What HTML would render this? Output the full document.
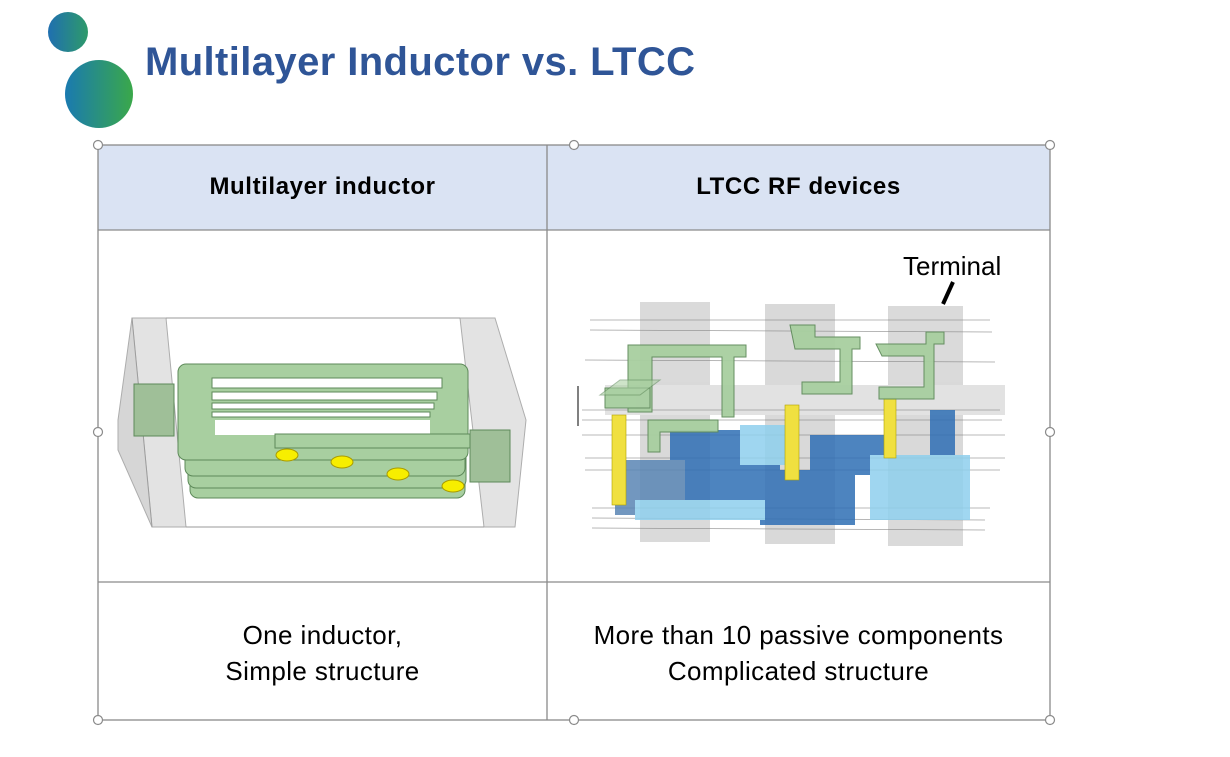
<!DOCTYPE html>
<html><head><meta charset="utf-8"><style>
body{margin:0;width:1230px;height:757px;background:#fff;position:relative;overflow:hidden;font-family:"Liberation Sans",sans-serif}
.t{position:absolute;text-align:center;font-family:"Liberation Sans",sans-serif;color:#000}
</style></head><body>
<svg width="1230" height="757" style="position:absolute;left:0;top:0">
<defs>
<linearGradient id="g1" x1="0" y1="0" x2="1" y2="0"><stop offset="0" stop-color="#1f6fb0"/><stop offset="1" stop-color="#2e9a6a"/></linearGradient>
<linearGradient id="g2" x1="0" y1="0" x2="1" y2="0"><stop offset="0" stop-color="#1a7ab0"/><stop offset="1" stop-color="#3aa84a"/></linearGradient>
</defs>
<circle cx="68" cy="32" r="20" fill="url(#g1)"/>
<circle cx="99" cy="94" r="34" fill="url(#g2)"/>
<text x="145" y="75" font-family="Liberation Sans" font-weight="bold" font-size="40" fill="#2f5597" textLength="550">Multilayer Inductor vs. LTCC</text>
<rect x="98" y="145" width="952" height="85" fill="#dae3f3"/>
<g stroke="#8a8a8a" stroke-width="1.3" fill="none">
<rect x="98" y="145" width="952" height="575"/>
<line x1="98" y1="230" x2="1050" y2="230"/>
<line x1="98" y1="582" x2="1050" y2="582"/>
<line x1="547" y1="145" x2="547" y2="720"/>
</g>
<g fill="#fff" stroke="#8a8a8a" stroke-width="1.2">
<circle cx="98" cy="145" r="4.5"/><circle cx="574" cy="145" r="4.5"/><circle cx="1050" cy="145" r="4.5"/>
<circle cx="98" cy="432" r="4.5"/><circle cx="1050" cy="432" r="4.5"/>
<circle cx="98" cy="720" r="4.5"/><circle cx="574" cy="720" r="4.5"/><circle cx="1050" cy="720" r="4.5"/>
</g>
<g stroke="#999" stroke-width="1">
<polygon points="132,318 166,318 186,527 152,527" fill="#ddd" opacity="0.8"/>
<polygon points="118,420 132,318 152,527 118,450" fill="#ccc" opacity="0.8"/>
<polygon points="460,318 495,318 526,420 515,527 484,527" fill="#ddd" opacity="0.8"/>
<line x1="166" y1="318" x2="460" y2="318"/><line x1="186" y1="527" x2="484" y2="527"/>
</g>
<g fill="#a8cfa0" stroke="#5e8a5a" stroke-width="1">
<rect x="190" y="440" width="275" height="58" rx="8"/>
<rect x="188" y="428" width="278" height="60" rx="8"/>
<rect x="185" y="418" width="280" height="58" rx="8"/>
<rect x="178" y="364" width="290" height="96" rx="8"/>
<rect x="134" y="384" width="40" height="52" fill="#9fbf98"/>
<rect x="470" y="430" width="40" height="52" fill="#9fbf98"/>
</g>
<g fill="#fff" stroke="#5e8a5a">
<rect x="212" y="378" width="230" height="10"/>
<rect x="212" y="392" width="225" height="8"/>
<rect x="212" y="403" width="222" height="6"/>
<rect x="212" y="412" width="218" height="5"/>
<rect x="215" y="420" width="215" height="15" stroke="none"/>
</g>
<rect x="275" y="434" width="195" height="14" fill="#a8cfa0" stroke="#5e8a5a"/>
<g fill="#f7ee00" stroke="#a89a00">
<ellipse cx="287" cy="455" rx="11" ry="6"/><ellipse cx="342" cy="462" rx="11" ry="6"/>
<ellipse cx="398" cy="474" rx="11" ry="6"/><ellipse cx="453" cy="486" rx="11" ry="6"/>
</g>
<g opacity="0.55">
<rect x="640" y="302" width="70" height="240" fill="#bbb"/>
<rect x="765" y="304" width="70" height="240" fill="#bbb"/>
<rect x="888" y="306" width="75" height="240" fill="#bbb"/>
<rect x="605" y="385" width="400" height="30" fill="#ccc"/>
</g>
<g stroke="#888" stroke-width="0.7" opacity="0.8">
<line x1="590" y1="320" x2="990" y2="320"/><line x1="590" y1="330" x2="992" y2="332"/>
<line x1="585" y1="360" x2="995" y2="362"/><line x1="582" y1="410" x2="1000" y2="410"/>
<line x1="582" y1="420" x2="1002" y2="420"/><line x1="582" y1="435" x2="1005" y2="435"/>
<line x1="585" y1="458" x2="1005" y2="458"/><line x1="585" y1="470" x2="1000" y2="470"/>
<line x1="592" y1="508" x2="990" y2="508"/><line x1="592" y1="518" x2="985" y2="520"/>
<line x1="592" y1="528" x2="985" y2="530"/>
</g>
<g opacity="0.85">
<rect x="670" y="430" width="110" height="80" fill="#2f6fb5"/>
<rect x="615" y="460" width="70" height="55" fill="#5a86b5"/>
<rect x="760" y="470" width="95" height="55" fill="#2f6fb5"/>
<rect x="810" y="435" width="80" height="40" fill="#2f6fb5"/>
<rect x="930" y="410" width="25" height="75" fill="#2f6fb5"/>
<rect x="870" y="455" width="100" height="65" fill="#8fd0ee"/>
<rect x="635" y="500" width="130" height="20" fill="#8fd0ee"/>
<rect x="740" y="425" width="45" height="40" fill="#8fd0ee"/>
</g>
<g fill="#f0e040" stroke="#b0a000" stroke-width="0.6">
<rect x="612" y="415" width="14" height="90"/>
<rect x="785" y="405" width="14" height="75"/>
<rect x="884" y="398" width="12" height="60"/>
</g>
<g fill="#a8cfa0" stroke="#5e8a5a" stroke-width="1" opacity="0.95">
<path d="M628,345 h118 v12 h-12 v60 h-12 v-60 h-70 v55 h-24z"/>
<rect x="605" y="388" width="45" height="20"/>
<path d="M648,420 h70 v12 h-58 v20 h-12z"/>
<path d="M790,325 h25 v12 h45 v12 h-8 v45 h-50 v-12 h38 v-33 h-45z"/>
<path d="M876,344 h50 v-12 h18 v12 h-10 v55 h-55 v-12 h45 v-31 h-42z"/>
<path d="M600,395 l20,-15 h40 l-20,15z" opacity="0.6"/>
</g>
<path d="M953,282 l-10,22" stroke="#000" stroke-width="4"/>
<line x1="578" y1="386" x2="578" y2="426" stroke="#000" stroke-width="1"/>
</svg>
<div class="t" style="left:98px;top:173px;width:449px;font-size:24px;font-weight:bold;letter-spacing:0.6px">Multilayer inductor</div>
<div class="t" style="left:547px;top:173px;width:503px;font-size:24px;font-weight:bold;letter-spacing:0.6px">LTCC RF devices</div>
<div class="t" style="left:903px;top:251px;font-size:26px;text-align:left">Terminal</div>
<div class="t" style="left:98px;top:617px;width:449px;font-size:26px;line-height:36px;letter-spacing:0.4px">One inductor,<br>Simple structure</div>
<div class="t" style="left:547px;top:617px;width:503px;font-size:26px;line-height:36px;letter-spacing:0.4px">More than 10 passive components<br>Complicated structure</div>
</body></html>
